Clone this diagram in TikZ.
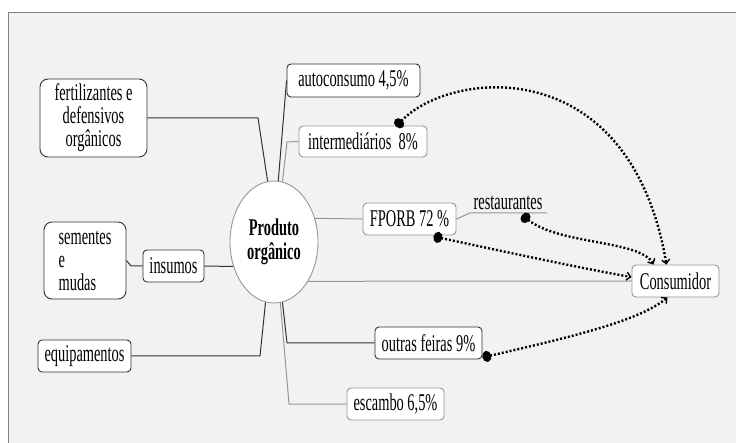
\documentclass[tikz,border=0pt]{standalone}
\usepackage{fontspec}
\setmainfont{Liberation Serif}[FakeStretch=0.6]
\usetikzlibrary{shapes.geometric,arrows.meta}

\definecolor{bgcol}{RGB}{241,243,243}
\definecolor{framecol}{RGB}{130,130,130}
\definecolor{darkline}{RGB}{50,50,50}
\definecolor{lightline}{RGB}{150,150,150}

\begin{document}
\begin{tikzpicture}
[
	x=1pt, y=-1pt,
	txt/.style={font=\fontsize{24}{23}\selectfont},
	darkbox/.style={txt,draw=darkline,fill=white,rounded corners=4pt,inner sep=0pt,line width=0.9pt},
	lightbox/.style={txt,draw=lightline,fill=white,rounded corners=4pt,inner sep=0pt,line width=0.9pt},
	darkconn/.style={darkline,line width=1pt},
	lightconn/.style={lightline,line width=1pt},
	flow/.style={line width=2.4pt,dash pattern=on 2pt off 2pt,
		{Circle[length=9pt,width=11pt]}-{Straight Barb[length=4pt,width=8pt,line width=1.4pt]}}
]

	% background
	\useasboundingbox (0,0) rectangle (736,443);
	\fill[bgcol] (8,13) rectangle (736,443);
	\draw[framecol,line width=1pt] (8,443) -- (8,13) -- (736,13);

	% centre
	\node[ellipse,draw=lightline,fill=white,line width=0.9pt,minimum width=88pt,minimum height=122pt,
		inner sep=0pt,align=center,font=\fontsize{24}{24}\selectfont\bfseries] (prod) at (274,242) {Produto\\orgânico};

	% left side
	\node[darkbox,minimum width=107pt,minimum height=78pt,rounded corners=8pt,align=center] (fert) at (93.5,118) {fertilizantes e\\defensivos\\orgânicos};
	\node[darkbox,minimum width=82pt,minimum height=77pt,rounded corners=8pt,align=left] (sem) at (85,260.5) {sementes\\e\\mudas};
	\node[darkbox,minimum width=61pt,minimum height=32pt] (ins) at (173.5,266) {insumos};
	\node[darkbox,minimum width=93pt,minimum height=32pt] (equip) at (84.5,356) {equipamentos};

	% right side
	\node[darkbox,minimum width=133pt,minimum height=33pt] (auto) at (353.5,80.5) {autoconsumo 4,5\%};
	\node[lightbox,minimum width=128pt,minimum height=31pt] (inter) at (363,141.5) {intermediários\ \ 8\%};
	\node[lightbox,minimum width=93pt,minimum height=32pt] (fporb) at (409.5,219) {FPORB 72 \%};
	\node[txt,inner sep=0pt,anchor=south] (rest) at (508,210) {restaurantes};
	\node[darkbox,minimum width=107pt,minimum height=32pt] (outras) at (428.5,343) {outras feiras 9\%};
	\node[lightbox,minimum width=97pt,minimum height=32pt] (esc) at (395.5,404) {escambo 6,5\%};
	\node[lightbox,minimum width=87pt,minimum height=32pt] (cons) at (675.5,281) {Consumidor};

	% branches
	\draw[darkconn] (fert.east) -- (258,118) -- (prod.96);
	\draw[darkconn] (sem.east) -- (131,266) -- (ins.west);
	\draw[darkconn] (ins.east) -- (prod.211);
	\draw[darkconn] (equip.east) -- (260,356) -- (prod.262);
	\draw[darkconn] (prod.86) -- (auto.west);
	\draw[lightconn] (prod.82) -- (287,142) -- (inter.west);
	\draw[lightconn] (prod.30) -- (fporb.west);
	\draw[lightconn] (fporb.east) -- (470,213) -- (547,213);
	\draw[lightconn] (prod.-49) -- (cons.west);
	\draw[darkconn] (prod.278) -- (287,343) -- (outras.west);
	\draw[lightconn] (prod.276) -- (289,404) -- (esc.west);

	% flows to the consumer
	\draw[flow] ([shift={(33pt,-1pt)}]inter.north) .. controls (450,70) and (630,50) .. ([xshift=-9pt]cons.north);
	\draw[flow] ([shift={(14pt,-5pt)}]rest.south) .. controls (560,245) and (640,240) .. ([xshift=-22pt]cons.north);
	\draw[flow] ([shift={(24pt,-1pt)}]fporb.south) .. controls (520,255) and (590,270) .. ([yshift=4pt]cons.west);
	\draw[flow] ([shift={(0pt,2pt)}]outras.south east) .. controls (580,335) and (640,320) .. ([xshift=-8pt]cons.south);

\end{tikzpicture}
\end{document}
